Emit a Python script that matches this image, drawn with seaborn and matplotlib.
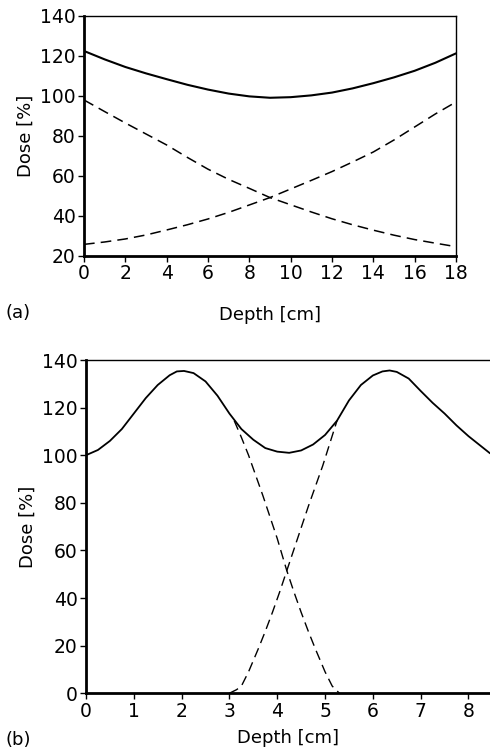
import matplotlib
matplotlib.use("Agg")
import matplotlib.pyplot as plt
import seaborn as sns

# (a) opposed beams, depth 0-18 cm
a_depth = [0, 1, 2, 3, 4, 5, 6, 7, 8, 9, 10, 11, 12, 13, 14, 15, 16, 17, 18]
a_total = [122.5, 118.3, 114.5, 111.3, 108.4, 105.6, 103.2, 101.2, 99.8, 99.1,
           99.4, 100.3, 101.7, 103.8, 106.4, 109.3, 112.6, 116.6, 121.3]
a_dash_depth = [0, 1, 2, 3, 4, 5, 6, 7, 8, 9, 10, 11, 12, 13, 14, 15, 16, 17, 17.8]
a_beam1 = [98, 92.2, 86.5, 81, 75.5, 69.3, 63.4, 58.3, 53.8, 49.2, 45.6, 42,
           38.6, 35.6, 32.9, 30.4, 28.2, 26.4, 25]
a_beam2 = [25.8, 27, 28.5, 30.5, 33, 35.6, 38.5, 41.8, 45.5, 49.2, 53.5, 57.8,
           62.2, 67, 72, 78, 84.5, 91, 95.8]

# (b) adjacent fields, depth 0-8.45 cm
b_depth = [0, 0.25, 0.5, 0.75, 1, 1.25, 1.5, 1.75, 1.9, 2.05, 2.25, 2.5, 2.75,
           3, 3.25, 3.5, 3.75, 4, 4.25, 4.5, 4.75, 5, 5.25, 5.5, 5.75, 6,
           6.2, 6.35, 6.5, 6.75, 7, 7.25, 7.5, 7.75, 8, 8.25, 8.45]
b_total = [100, 102.2, 106, 111, 117.5, 124, 129.5, 133.6, 135.2, 135.4, 134.5,
           131, 125, 117.5, 111, 106.5, 103, 101.5, 101, 102, 104.5, 108.5,
           114.5, 123, 129.5, 133.5, 135.2, 135.6, 135, 132.2, 127, 122, 117.5,
           112.5, 108, 104, 100.8]
b_f1_depth = [3.1, 3.25, 3.4, 3.55, 3.7, 3.85, 4.0, 4.2, 4.35, 4.5, 4.65, 4.8,
              5.0, 5.15, 5.3]
b_field1 = [114.5, 107.5, 100, 91.5, 83, 74, 65, 51.5, 42.5, 34, 26, 18.5, 9, 3, 0]
b_f2_depth = [3.0, 3.15, 3.25, 3.4, 3.6, 3.75, 3.9, 4.05, 4.2, 4.35, 4.5, 4.65,
              4.8, 4.95, 5.1, 5.25]
b_field2 = [0, 1.5, 3, 9, 18.5, 26, 34, 42.5, 51.5, 60.5, 69.5, 78.5, 87,
            95.5, 105, 114.5]

sns.set_style("ticks")
plt.rcParams["font.family"] = ["DejaVu Sans"]
plt.rcParams["font.size"] = 13
plt.rcParams["axes.labelcolor"] = "black"
plt.rcParams["text.color"] = "black"

fig = plt.figure(figsize=(4.9, 7.5), dpi=100)
ax1 = fig.add_axes([0.1714, 0.6587, 0.7592, 0.32])
ax2 = fig.add_axes([0.1755, 0.0757, 0.8245, 0.4443])

dash = (7, 4)

# (a)
sns.lineplot(x=a_depth, y=a_total, ax=ax1, color="black", linewidth=1.5)
sns.lineplot(x=a_dash_depth, y=a_beam1, ax=ax1, color="black", linewidth=1.1,
             linestyle=(0, dash))
sns.lineplot(x=a_dash_depth, y=a_beam2, ax=ax1, color="black", linewidth=1.1,
             linestyle=(0, dash))
ax1.set_xlim(0, 18)
ax1.set_ylim(20, 140)
ax1.set_xticks(range(0, 19, 2))
ax1.set_yticks(range(20, 141, 20))
ax1.set_xlabel("Depth [cm]", fontsize=13, labelpad=16, color="black")
ax1.set_ylabel("Dose [%]", fontsize=13, labelpad=4, color="black")

# (b)
sns.lineplot(x=b_depth, y=b_total, ax=ax2, color="black", linewidth=1.3)
sns.lineplot(x=b_f1_depth, y=b_field1, ax=ax2, color="black", linewidth=1.0,
             linestyle=(0, dash))
sns.lineplot(x=b_f2_depth, y=b_field2, ax=ax2, color="black", linewidth=1.0,
             linestyle=(0, dash))
ax2.set_xlim(0, 8.45)
ax2.set_ylim(0, 140)
ax2.set_xticks(range(0, 9))
ax2.set_yticks(range(0, 141, 20))
ax2.set_xlabel("Depth [cm]", fontsize=13, labelpad=6, color="black")
ax2.set_ylabel("Dose [%]", fontsize=13, labelpad=4, color="black")
ax2.spines["right"].set_visible(False)

for ax in (ax1, ax2):
    for side in ("top", "right"):
        ax.spines[side].set_linewidth(1.0)
    for side in ("left", "bottom"):
        ax.spines[side].set_linewidth(2.0)
    ax.tick_params(axis="both", direction="out", length=4, width=1,
                   labelsize=13.5, pad=2, colors="black")
    for s in ax.spines.values():
        s.set_color("black")

fig.text(0.012, 0.583, "(a)", fontsize=13, va="center", color="black")
fig.text(0.012, 0.013, "(b)", fontsize=13, va="center", color="black")

fig.savefig("out.png", dpi=100, facecolor="white")
